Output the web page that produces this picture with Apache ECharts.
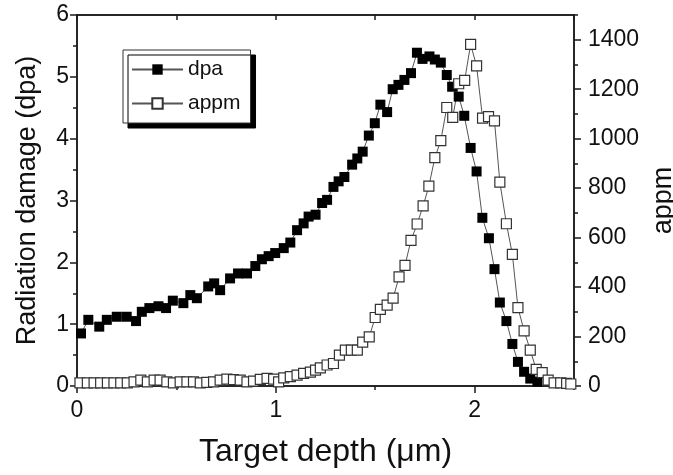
<!DOCTYPE html>
<html>
<head>
<meta charset="utf-8">
<script src="https://cdn.jsdelivr.net/npm/echarts@6/dist/echarts.min.js"></script>
<style>html,body{margin:0;padding:0;background:#fff}#c{width:673px;height:475px}</style>
</head>
<body>
<div id="c"></div>
<script>
const dpaX = [0.02,0.057,0.112,0.15,0.20,0.25,0.297,0.326,0.364,0.41,0.448,0.482,0.535,0.57,0.603,0.66,0.69,0.72,0.77,0.81,0.855,0.897,0.93,0.964,0.997,1.04,1.073,1.107,1.14,1.165,1.20,1.233,1.258,1.29,1.316,1.345,1.384,1.41,1.437,1.468,1.498,1.526,1.56,1.588,1.617,1.647,1.68,1.71,1.738,1.773,1.80,1.83,1.86,1.887,1.92,1.948,1.98,2.01,2.039,2.072,2.10,2.127,2.16,2.19,2.218,2.249,2.28,2.316];
const dpaY = [0.85,1.07,0.96,1.07,1.12,1.12,1.05,1.20,1.26,1.29,1.26,1.38,1.34,1.47,1.42,1.61,1.66,1.55,1.74,1.82,1.82,1.94,2.05,2.10,2.15,2.23,2.32,2.52,2.63,2.74,2.77,2.96,3.01,3.22,3.31,3.38,3.58,3.68,3.79,4.05,4.25,4.55,4.43,4.80,4.87,4.95,5.06,5.39,5.29,5.33,5.28,5.23,5.03,4.84,4.68,4.37,3.85,3.47,2.72,2.39,1.89,1.35,1.05,0.68,0.39,0.23,0.12,0.07];
const appmX = [0.015,0.052,0.086,0.119,0.153,0.186,0.22,0.253,0.287,0.321,0.354,0.388,0.418,0.452,0.485,0.519,0.553,0.586,0.62,0.653,0.687,0.72,0.754,0.787,0.821,0.855,0.888,0.922,0.956,0.989,1.014,1.04,1.073,1.107,1.14,1.174,1.20,1.224,1.258,1.29,1.32,1.35,1.38,1.41,1.437,1.47,1.50,1.526,1.56,1.59,1.62,1.65,1.68,1.711,1.741,1.77,1.80,1.83,1.86,1.89,1.92,1.95,1.98,2.01,2.04,2.07,2.10,2.127,2.16,2.19,2.218,2.249,2.28,2.31,2.34,2.37,2.40,2.433,2.463,2.484];
const appmY = [13,13,13,13,13,13,13,13,17,24,17,24,24,17,13,17,17,17,13,15,17,24,28,26,24,17,20,27,31,28,17,33,38,44,51,56,64,73,85,91,125,145,145,145,177,199,277,310,327,355,441,488,589,655,728,808,923,992,1126,1086,1222,1236,1381,1294,1083,1089,1072,824,656,532,317,223,145,67,54,24,13,13,11,8];
const xTicks = [0,1,2];
const leftTicks = [0,1,2,3,4,5,6];
const rightTicks = [0,200,400,600,800,1000,1200,1400];

const zip = (a,b) => a.map((v,i)=>[v,b[i]]);
const AX = '#1a1a1a';
const FONT = 'Liberation Sans, Arial, sans-serif';
const chart = echarts.init(document.getElementById('c'));
chart.setOption({
  animation: false,
  backgroundColor: '#fff',
  grid: {left: 77, right: 99, top: 15, bottom: 89, containLabel: false, outerBoundsMode: 'none',
         show: true, borderColor: AX, borderWidth: 1.5, backgroundColor: 'transparent'},
  legend: {
    orient: 'vertical', left: 123, top: 50,
    padding: [9, 10, 9, 8], itemGap: 13, itemWidth: 51, itemHeight: 13,
    backgroundColor: '#fff', borderColor: '#333', borderWidth: 1,
    shadowColor: '#000', shadowBlur: 0, shadowOffsetX: 5, shadowOffsetY: 5,
    textStyle: {fontFamily: FONT, fontSize: 21, color: '#111'},
    data: ['dpa','appm']
  },
  xAxis: [
    {type:'value', position:'bottom', min:0, max:2.5, interval:1,
     name:'Target depth (\u03bcm)', nameLocation:'middle', nameGap:50,
     nameTextStyle:{fontFamily:FONT, fontSize:32, color:'#111'},
     axisLine:{show:true, onZero:false, lineStyle:{color:AX, width:1.5}},
     axisTick:{show:true, inside:false, length:7, lineStyle:{color:AX, width:1.5}},
     axisLabel:{show:true, margin:13, fontFamily:FONT, fontSize:23, color:'#111', showMaxLabel:false,
       formatter: v => xTicks.includes(v) ? String(v) : ''},
     splitLine:{show:false}},
    {type:'value', position:'bottom', min:0, max:2.5, interval:0.5,
     axisLine:{show:false, onZero:false}, axisTick:{show:true, length:4, lineStyle:{color:AX, width:1.5}},
     axisLabel:{show:false}, splitLine:{show:false}},
    {type:'value', position:'top', min:0, max:2.5, interval:0.5,
     axisLine:{show:true, onZero:false, lineStyle:{color:AX, width:1.5}},
     axisTick:{show:true, inside:true, length:5, lineStyle:{color:AX, width:1.5}},
     axisLabel:{show:false}, splitLine:{show:false}}
  ],
  yAxis: [
    {type:'value', position:'left', min:0, max:6, interval:1,
     name:'Radiation damage (dpa)', nameLocation:'middle', nameGap:36, nameRotate:90,
     nameTextStyle:{fontFamily:FONT, fontSize:27, color:'#111'},
     axisLine:{show:true, onZero:false, lineStyle:{color:AX, width:1.5}},
     axisTick:{show:true, length:7, lineStyle:{color:AX, width:1.5}},
     axisLabel:{show:true, margin:8, fontFamily:FONT, fontSize:23, color:'#111',
       formatter: v => leftTicks.includes(v) ? String(v) : ''},
     splitLine:{show:false}},
    {type:'value', position:'left', min:0, max:6, interval:0.5,
     axisLine:{show:false, onZero:false}, axisTick:{show:true, length:4, lineStyle:{color:AX, width:1.5}},
     axisLabel:{show:false}, splitLine:{show:false}},
    {type:'value', position:'right', min:0, max:1500, interval:200,
     name:'appm', nameLocation:'middle', nameGap:64, nameRotate:90,
     nameTextStyle:{fontFamily:FONT, fontSize:27, color:'#111'},
     axisLine:{show:true, onZero:false, lineStyle:{color:AX, width:1.5}},
     axisTick:{show:true, length:7, lineStyle:{color:AX, width:1.5}},
     axisLabel:{show:true, margin:14, fontFamily:FONT, fontSize:23, color:'#111', showMaxLabel:false,
       formatter: v => rightTicks.includes(v) ? String(v) : ''},
     splitLine:{show:false}},
    {type:'value', position:'right', min:0, max:1500, interval:100,
     axisLine:{show:false, onZero:false}, axisTick:{show:true, length:4, lineStyle:{color:AX, width:1.5}},
     axisLabel:{show:false}, splitLine:{show:false}}
  ],
  series: [
    {name:'dpa', type:'line', xAxisIndex:0, yAxisIndex:0, data: zip(dpaX, dpaY),
     symbol:'rect', symbolSize:10, showAllSymbol:true,
     itemStyle:{color:'#000', borderColor:'#000', borderWidth:0},
     lineStyle:{color:'#555', width:1}},
    {name:'appm', type:'line', xAxisIndex:0, yAxisIndex:2, data: zip(appmX, appmY),
     symbol:'rect', symbolSize:10, showAllSymbol:true,
     itemStyle:{color:'#fff', borderColor:'#333', borderWidth:1.2},
     lineStyle:{color:'#555', width:1}}
  ]
});
</script>
</body>
</html>
